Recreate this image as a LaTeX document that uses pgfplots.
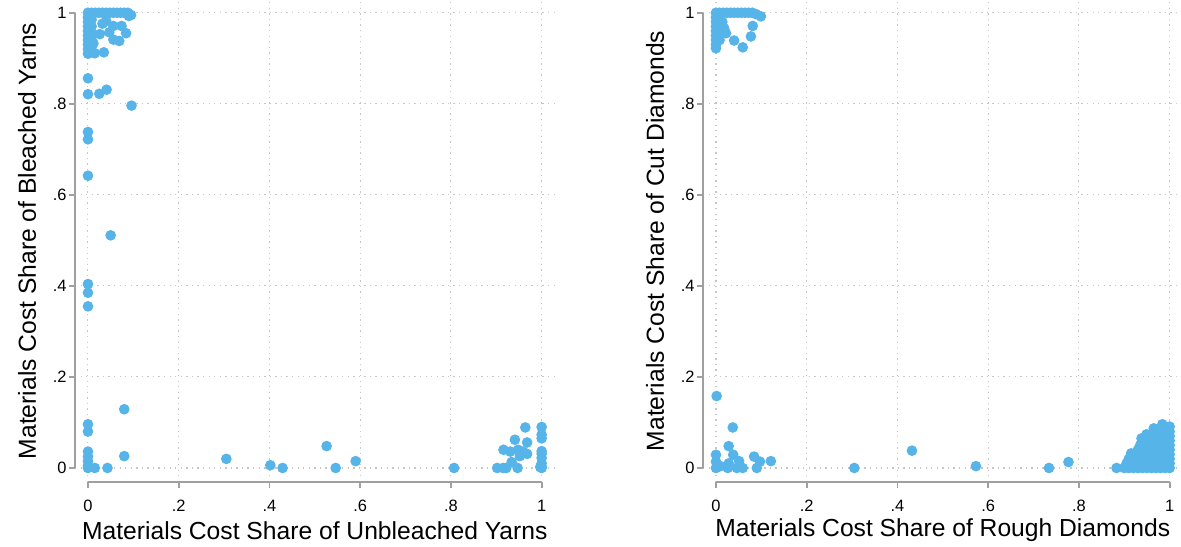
\documentclass[border=0pt]{standalone}
\usepackage{fontspec}
\setmainfont{Liberation Sans}
\usepackage{pgfplots}
\pgfplotsset{compat=1.18}
\definecolor{dotblue}{RGB}{86,180,233}
\definecolor{axgray}{RGB}{160,160,160}

\tikzset{stataline/.style={draw=axgray, line width=0.7pt}}

\pgfplotsset{
  statastyle/.style={
    scale only axis, width=181pt, height=182pt,
    xmin=-0.0286, xmax=1.0286, ymin=-0.0308, ymax=1.0286,
    axis line style={draw=none},
    xtick={0,0.2,0.4,0.6,0.8,1}, ytick={0,0.2,0.4,0.6,0.8,1},
    xticklabels={}, yticklabels={},
    major tick length=0pt,
    grid=major,
    major grid style={gray!45, line width=0.4pt, dash pattern=on 0.5pt off 1.6pt},
    clip=false,
  },
  dots/.style={only marks, mark=*, mark size=1.8pt, color=dotblue,
    mark options={draw=dotblue, fill=dotblue}},
}

% Stata-like axis decorations, drawn in pt relative to an axis origin
\newcommand{\stataframe}[3]{% #1 x offset, #2 xlabel, #3 ylabel
  \begin{scope}[xshift=#1]
    \draw[stataline] (0,5.29pt) -- (0,177.1pt);
    \draw[stataline] (4.9pt,0) -- (176.1pt,0);
    \foreach \i/\lab in {0/0,1/.2,2/.4,3/.6,4/.8,5/1} {
      \draw[stataline] (4.9pt+\i*34.24pt,0) -- ++(0,-2.3pt);
      \node[font=\fontsize{6.2}{7}\selectfont, anchor=north, inner sep=0pt]
        at (4.9pt+\i*34.24pt,-6.6pt) {\lab};
      \draw[stataline] (0,5.29pt+\i*34.36pt) -- ++(-2.3pt,0);
      \node[font=\fontsize{6.2}{7}\selectfont, anchor=east, inner sep=0pt]
        at (-3pt,5.29pt+\i*34.36pt) {\lab};
    }
    \node[font=\fontsize{9.3}{11}\selectfont] at (90.5pt,-18.2pt) {#2};
    \node[font=\fontsize{9.3}{11}\selectfont, rotate=90] at (-18.1pt,91pt) {#3};
  \end{scope}
}

\begin{document}
\begin{tikzpicture}
% left panel: yarns
\begin{axis}[statastyle]
  \addplot[dots] coordinates {
    (0,1) (0.008,1) (0.016,1) (0.024,1) (0.032,1) (0.040,1) (0.048,1)
    (0.056,1) (0.064,1) (0.072,1) (0.080,1) (0.088,1) (0.095,0.995) (0.090,0.993)
    (0,0.99) (0,0.98) (0,0.97) (0,0.96) (0,0.95) (0,0.94) (0,0.93) (0,0.92) (0,0.91)
    (0.008,0.985) (0.008,0.97) (0.008,0.955) (0.008,0.94) (0.008,0.925)
    (0.032,0.976) (0.056,0.971) (0.074,0.971) (0.084,0.955) (0.026,0.953)
    (0.047,0.957) (0.056,0.941) (0.069,0.938) (0.015,0.911) (0.035,0.913)
    (0.012,0.933) (0.040,0.982)
    (0,0.856) (0,0.821) (0.025,0.822) (0.041,0.831) (0.096,0.796)
    (0,0.738) (0,0.722) (0,0.642) (0.050,0.511)
    (0,0.404) (0,0.385) (0,0.355)
    (0.080,0.129) (0,0.096) (0,0.080) (0,0.036) (0,0.025) (0,0.015) (0,0.005) (0,0)
    (0.080,0.026) (0.015,0) (0.043,0)
    (0.305,0.020) (0.402,0.006) (0.429,0) (0.526,0.048) (0.546,0) (0.590,0.015)
    (0.807,0) (0.902,0) (0.915,0) (0.922,0) (0.934,0.013) (0.947,0)
    (0.916,0.040) (0.931,0.036) (0.941,0.062) (0.948,0.040) (0.952,0.026)
    (0.964,0.089) (0.968,0.056) (0.968,0.031) (0.959,0.036)
    (1,0.090) (1,0.073) (1,0.065) (1,0.037) (1,0.031) (1,0.022) (1,0.010)
    (1,0.003) (1,0) (0.997,0.002)
  };
\end{axis}

% right panel: diamonds
\begin{axis}[statastyle, at={(237pt,0)}]
  \addplot[dots] coordinates {
    (0,1) (0.008,1) (0.016,1) (0.024,1) (0.032,1) (0.040,1) (0.048,1)
    (0.056,1) (0.064,1) (0.072,1) (0.080,1) (0.088,0.997) (0.099,0.992)
    (0,0.99) (0,0.98) (0,0.97) (0,0.96) (0,0.95) (0,0.94) (0,0.93) (0,0.922)
    (0.008,0.985) (0.008,0.97) (0.008,0.955) (0.008,0.94)
    (0.081,0.971) (0.077,0.948) (0.040,0.939) (0.059,0.924) (0.022,0.955)
    (0.018,0.966) (0.014,0.98)
    (0.0015,0.158) (0.037,0.089) (0.028,0.048) (0,0.029) (0,0.014) (0,0)
    (0.038,0.029) (0.028,0.010) (0.026,0) (0.051,0.015) (0.046,0) (0.059,0)
    (0.084,0.025) (0.097,0.014) (0.090,0) (0.121,0.015) (0.010,0.004)
    (0.305,0) (0.432,0.038) (0.573,0.004) (0.734,0) (0.777,0.013) (0.883,0)
    (0.900,0) (0.910,0) (0.920,0) (0.930,0) (0.940,0) (0.950,0) (0.960,0)
    (0.970,0) (0.980,0) (0.990,0) (1,0)
    (0.905,0.010) (0.915,0.010) (0.925,0.010) (0.935,0.010) (0.945,0.010)
    (0.955,0.010) (0.965,0.010) (0.975,0.010) (0.985,0.010) (0.995,0.010) (1,0.010)
    (0.910,0.020) (0.920,0.020) (0.930,0.020) (0.940,0.020) (0.950,0.020)
    (0.960,0.020) (0.970,0.020) (0.980,0.020) (0.990,0.020) (1,0.020)
    (0.915,0.032) (0.925,0.030) (0.935,0.030) (0.945,0.030) (0.955,0.030)
    (0.965,0.030) (0.975,0.030) (0.985,0.030) (0.995,0.030) (1,0.030)
    (0.930,0.040) (0.940,0.040) (0.950,0.040) (0.960,0.040) (0.970,0.040)
    (0.980,0.040) (0.990,0.040) (1,0.040)
    (0.935,0.050) (0.945,0.050) (0.955,0.050) (0.965,0.050) (0.975,0.050)
    (0.985,0.050) (0.995,0.050) (1,0.050)
    (0.938,0.065) (0.955,0.060) (0.965,0.060) (0.975,0.060) (0.985,0.060)
    (0.995,0.060) (1,0.060)
    (0.949,0.074) (0.965,0.070) (0.980,0.070) (0.990,0.070) (1,0.070)
    (0.965,0.087) (0.985,0.080) (1,0.080)
    (0.984,0.096) (1,0.091)
  };
\end{axis}

\stataframe{0pt}{Materials Cost Share of Unbleached Yarns}{Materials Cost Share of Bleached Yarns}
\stataframe{237pt}{Materials Cost Share of Rough Diamonds}{Materials Cost Share of Cut Diamonds}

\pgfresetboundingbox
\path[use as bounding box] (-28.3pt,-24.2pt) rectangle (417.4pt,181.9pt);
\end{tikzpicture}
\end{document}
